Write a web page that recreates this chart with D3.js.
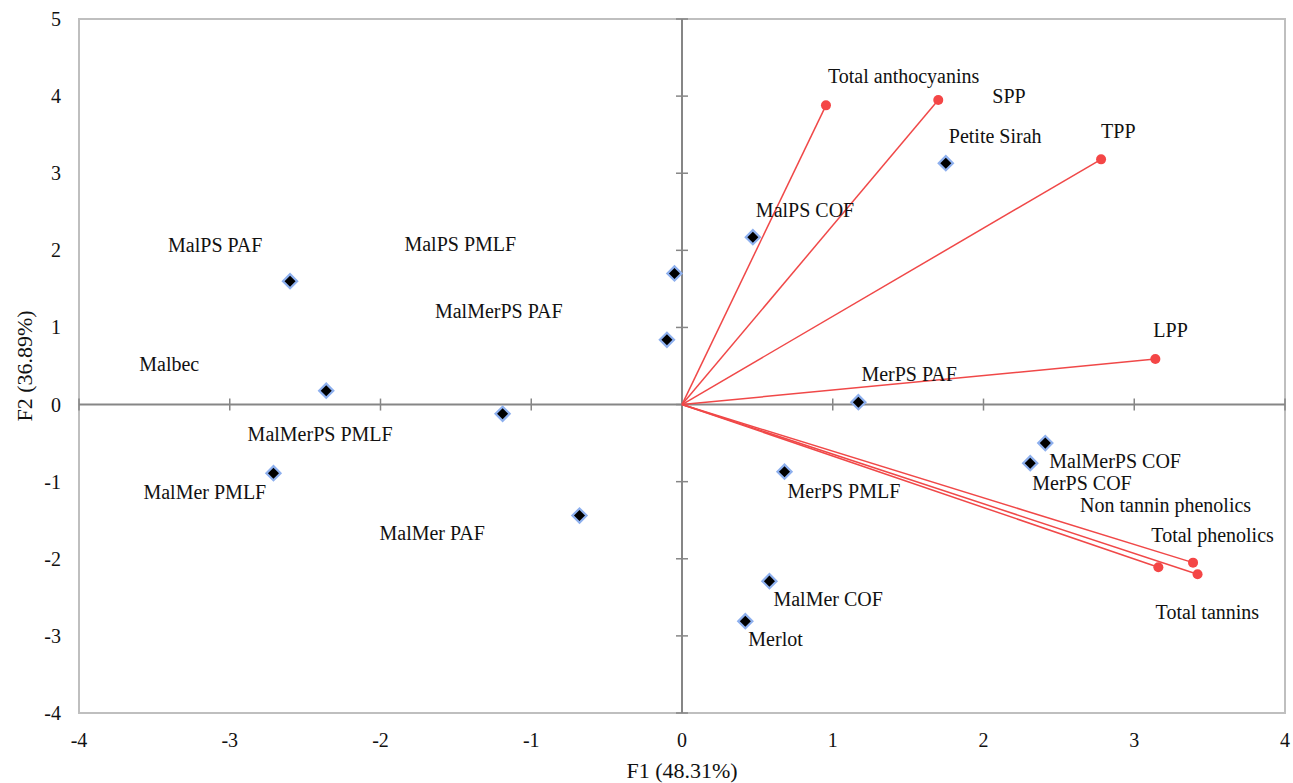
<!DOCTYPE html>
<html><head><meta charset="utf-8">
<script src="https://cdn.jsdelivr.net/npm/d3@7"></script>
<style>body{margin:0;background:#fff}svg{display:block}</style>
</head><body>
<svg id="c" width="1293" height="783"></svg>
<script>
// Observations (F1, F2)
const obsNames = ["Petite Sirah","MalPS COF","MalPS PMLF","MalMerPS PAF","MalPS PAF","Malbec","MalMerPS PMLF","MalMer PMLF","MalMer PAF","MerPS PAF","MerPS PMLF","MalMer COF","Merlot","MalMerPS COF","MerPS COF"];
const obsF1 = [1.75,0.47,-0.05,-0.10,-2.60,-2.36,-1.19,-2.71,-0.68,1.17,0.68,0.58,0.42,2.41,2.31];
const obsF2 = [3.13,2.17,1.70,0.84,1.60,0.18,-0.12,-0.89,-1.44,0.03,-0.87,-2.29,-2.81,-0.50,-0.76];
// Variables (F1, F2)
const varNames = ["Total anthocyanins","SPP","TPP","LPP","Non tannin phenolics","Total phenolics","Total tannins"];
const varF1 = [0.955,1.70,2.78,3.14,3.39,3.16,3.42];
const varF2 = [3.88,3.95,3.18,0.59,-2.05,-2.11,-2.20];
// Tick labels
const xTicks = [-4,-3,-2,-1,0,1,2,3,4];
const yTicks = [-4,-3,-2,-1,0,1,2,3,4,5];
const xTitle = "F1 (48.31%)", yTitle = "F2 (36.89%)";

// Layout: label offsets in pixels (dx from mark, dy to text centre)
const obsLabelOff = [[3,-27],[3,-27],[-270,-29],[-232,-29],[-122,-36],[-187,-27],[-255,20],[-130,19],[-200,17],[3,-28],[3,19],[4,18],[3,18],[4,18],[2,20]];
const varLabelOff = [[2,-29],[54,-4],[0,-28],[-2,-29],[-113,-58],[-7,-32],[-42,38]];

const FONT = "Liberation Serif";
const svg = d3.select("#c");
const L=79, R=1285, T=19, B=713;
const x = d3.scaleLinear().domain([-4,4]).range([L,R]);
const y = d3.scaleLinear().domain([-4,5]).range([B,T]);

svg.append("rect").attr("x",L).attr("y",T).attr("width",R-L).attr("height",B-T)
  .attr("fill","none").attr("stroke","#bfbfbf").attr("stroke-width",2);

// zero axes
const gz = svg.append("g").attr("stroke","#868686").attr("stroke-width",2);
gz.append("line").attr("x1",L).attr("x2",R).attr("y1",y(0)).attr("y2",y(0));
gz.append("line").attr("x1",x(0)).attr("x2",x(0)).attr("y1",T).attr("y2",B);
xTicks.forEach(t=>gz.append("line").attr("x1",x(t)).attr("x2",x(t)).attr("y1",y(0)-6).attr("y2",y(0)+6).attr("stroke-width",1.5));
yTicks.forEach(t=>gz.append("line").attr("y1",y(t)).attr("y2",y(t)).attr("x1",x(0)-6).attr("x2",x(0)+6).attr("stroke-width",1.5));

const fs = 20;
function txt(sel){ return sel.attr("font-family",FONT).attr("fill","#111"); }
// tick labels
txt(svg.append("g").selectAll("text").data(xTicks).join("text"))
  .attr("x",d=>x(d)).attr("y",747).attr("text-anchor","middle").attr("font-size",fs).text(d=>d);
txt(svg.append("g").selectAll("text").data(yTicks).join("text"))
  .attr("x",61).attr("y",d=>y(d)+7).attr("text-anchor","end").attr("font-size",fs).text(d=>d);

txt(svg.append("text")).attr("x",x(0)).attr("y",778).attr("text-anchor","middle").attr("font-size",22).text(xTitle);
txt(svg.append("text")).attr("transform",`translate(32,${y(0.5)}) rotate(-90)`).attr("text-anchor","middle").attr("font-size",22).text(yTitle);

// vectors
const vars = varNames.map((n,i)=>({n,a:varF1[i],b:varF2[i],o:varLabelOff[i]}));
svg.append("g").selectAll("line").data(vars).join("line")
  .attr("x1",x(0)).attr("y1",y(0)).attr("x2",d=>x(d.a)).attr("y2",d=>y(d.b))
  .attr("stroke","#f04848").attr("stroke-width",1.5);
svg.append("g").selectAll("circle").data(vars).join("circle")
  .attr("cx",d=>x(d.a)).attr("cy",d=>y(d.b)).attr("r",5).attr("fill","#f44646");
txt(svg.append("g").selectAll("text").data(vars).join("text"))
  .attr("x",d=>x(d.a)+d.o[0]).attr("y",d=>y(d.b)+d.o[1]+7).attr("font-size",fs).text(d=>d.n);

// observations
const obs = obsNames.map((n,i)=>({n,a:obsF1[i],b:obsF2[i],o:obsLabelOff[i]}));
const sym = d3.symbol().type(d3.symbolSquare).size(100);
svg.append("g").selectAll("path").data(obs).join("path")
  .attr("d",sym).attr("transform",d=>`translate(${x(d.a)},${y(d.b)}) rotate(45)`)
  .attr("fill","#000").attr("stroke","#8eb0ee").attr("stroke-width",2.2);
txt(svg.append("g").selectAll("text").data(obs).join("text"))
  .attr("x",d=>x(d.a)+d.o[0]).attr("y",d=>y(d.b)+d.o[1]+7).attr("font-size",fs).text(d=>d.n);
</script>
</body></html>
